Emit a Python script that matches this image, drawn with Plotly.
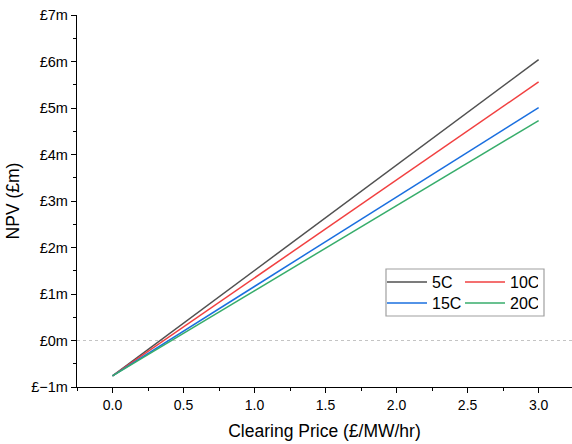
import plotly.graph_objects as go

# Data
series_names = ["5C", "10C", "15C", "20C"]
price = [0.0, 3.0]
npv_5C = [-0.76, 6.04]
npv_10C = [-0.76, 5.56]
npv_15C = [-0.76, 5.01]
npv_20C = [-0.76, 4.73]
series_values = [npv_5C, npv_10C, npv_15C, npv_20C]
colors = ["#515151", "#F14040", "#1A6FDF", "#37AD6B"]
x_ticks = [0.0, 0.5, 1.0, 1.5, 2.0, 2.5, 3.0]
x_ticklabels = ["0.0", "0.5", "1.0", "1.5", "2.0", "2.5", "3.0"]
y_ticks = [-1, 0, 1, 2, 3, 4, 5, 6, 7]
y_ticklabels = ["£−1m", "£0m", "£1m", "£2m", "£3m", "£4m", "£5m", "£6m", "£7m"]

FONT = "Liberation Sans, Arial, sans-serif"

fig = go.Figure()
for i, (name, vals, col) in enumerate(zip(series_names, series_values, colors)):
    fig.add_trace(go.Scatter(
        x=price, y=vals, mode="lines", name=name,
        line=dict(color=col, width=1.5),
        legend="legend" if i < 2 else "legend2",
    ))

# dashed zero line
fig.add_shape(type="line", xref="paper", x0=0, x1=1, yref="y", y0=0, y1=0,
              line=dict(color="#c4c4c4", width=1, dash="3px,3px"), layer="below")
# legend box
fig.add_shape(type="rect", xref="paper", yref="paper",
              x0=(386 - 77) / 495, x1=(544 - 77) / 495,
              y0=(387 - 316) / 372, y1=(387 - 269) / 372,
              line=dict(color="#a0a0a0", width=1.2), fillcolor="rgba(0,0,0,0)")

legend_common = dict(orientation="h", xanchor="left", yanchor="middle",
                     bgcolor="rgba(0,0,0,0)", borderwidth=0,
                     font=dict(family=FONT, size=16, color="#000"),
                     entrywidth=23, entrywidthmode="pixels", itemwidth=40,
                     tracegroupgap=0)

fig.update_layout(
    width=572, height=444,
    margin=dict(l=77, r=0, t=15, b=57),
    paper_bgcolor="white", plot_bgcolor="white",
    font=dict(family=FONT, size=14, color="#000"),
    showlegend=True,
    legend=dict(x=(382 - 77) / 495, y=(387 - 282) / 372, **legend_common),
    legend2=dict(x=(382 - 77) / 495, y=(387 - 303) / 372, **legend_common),
    xaxis=dict(
        range=[-0.25, 3.235], tickmode="array", tickvals=x_ticks, ticktext=x_ticklabels,
        showline=True, linecolor="#000", linewidth=1.3, mirror=False,
        ticks="outside", ticklen=5, tickwidth=1.3, tickcolor="#000",
        minor=dict(dtick=0.25, tick0=0, ticks="outside", ticklen=3, tickwidth=1.2, tickcolor="#000"),
        showgrid=False, zeroline=False,
        tickfont=dict(size=14),
        title=dict(text="Clearing Price (£/MW/hr)", font=dict(size=17.5), standoff=12),
    ),
    yaxis=dict(
        range=[-1, 7], tickmode="array", tickvals=y_ticks, ticktext=y_ticklabels,
        showline=True, linecolor="#000", linewidth=1.3, mirror=False,
        ticks="outside", ticklen=5, tickwidth=1.3, tickcolor="#000",
        minor=dict(dtick=0.5, tick0=0, ticks="outside", ticklen=3, tickwidth=1.2, tickcolor="#000"),
        showgrid=False, zeroline=False,
        tickfont=dict(size=14.5),
        title=dict(text="NPV (£m)", font=dict(size=17.5), standoff=7),
    ),
)

fig.write_html("out.html")
